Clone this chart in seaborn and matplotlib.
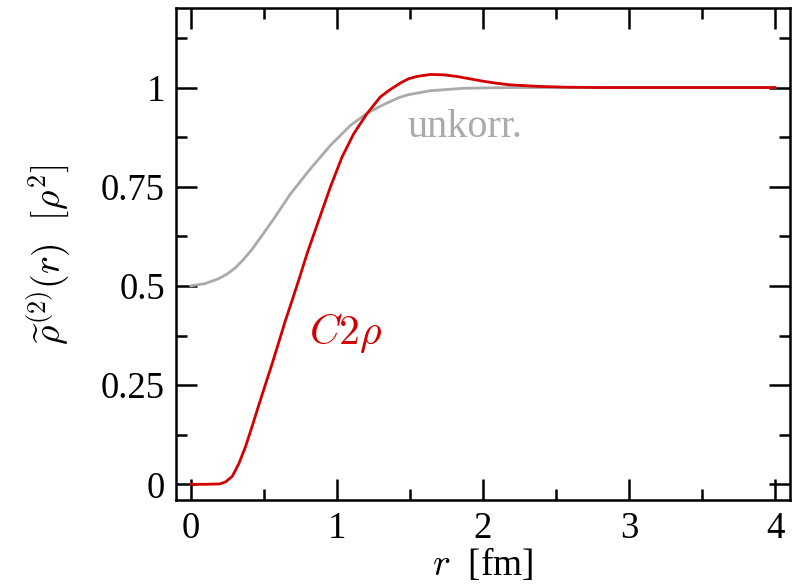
import numpy as np
import pandas as pd
import matplotlib
matplotlib.use("Agg")
import matplotlib.pyplot as plt
from matplotlib.ticker import MultipleLocator
import seaborn as sns

# values
r_unkorr = [0.0, 0.1, 0.19, 0.25, 0.307, 0.36, 0.42, 0.49, 0.569, 0.683, 0.819, 0.956,
            1.092, 1.206, 1.32, 1.42, 1.49, 1.64, 1.86, 2.0, 2.2, 2.5, 3.0, 3.5, 4.0]
rho_unkorr = [0.500, 0.506, 0.518, 0.530, 0.546, 0.566, 0.592, 0.628, 0.669, 0.732,
              0.795, 0.854, 0.904, 0.935, 0.957, 0.974, 0.982, 0.992, 0.998, 0.999,
              1.0, 1.0, 1.0, 1.0, 1.0]

r_c2rho = [0.0, 0.1, 0.2, 0.239, 0.285, 0.33, 0.375, 0.42, 0.466, 0.512, 0.558,
           0.603, 0.648, 0.694, 0.739, 0.80, 0.876, 0.956, 1.035, 1.115, 1.206,
           1.297, 1.354, 1.433, 1.49, 1.55, 1.64, 1.73, 1.82, 1.91, 2.0,
           2.09, 2.18, 2.37, 2.56, 2.8, 3.0, 3.5, 4.0]
rho_c2rho = [0.0, 0.0, 0.001, 0.006, 0.020, 0.052, 0.094, 0.145, 0.199, 0.252, 0.304,
             0.358, 0.412, 0.463, 0.514, 0.585, 0.665, 0.749, 0.824, 0.883, 0.934,
             0.976, 0.992, 1.011, 1.022, 1.028, 1.033, 1.032, 1.028, 1.022,
             1.016, 1.011, 1.007, 1.003, 1.001, 1.0, 1.0, 1.0, 1.0]

xticks = [0, 1, 2, 3, 4]
yticks = [0, 0.25, 0.5, 0.75, 1]
yticklabels = ["0", "0.25", "0.5", "0.75", "1"]

df_unkorr = pd.DataFrame({"r": r_unkorr, "rho": rho_unkorr})
df_c2rho = pd.DataFrame({"r": r_c2rho, "rho": rho_c2rho})

sns.set_style("ticks")
plt.rcParams["font.family"] = ["Liberation Serif", "DejaVu Serif"]
plt.rcParams["mathtext.fontset"] = "cm"
for key in ["text.color", "axes.labelcolor", "xtick.color", "ytick.color", "axes.edgecolor"]:
    plt.rcParams[key] = "black"

RED = "#d40000"
GREY = "#aaaaaa"

fig = plt.figure(figsize=(8.01, 5.85), dpi=100)
ax = fig.add_axes([0.2197, 0.145, 0.7665, 0.841])

sns.lineplot(data=df_unkorr, x="r", y="rho", ax=ax, color=GREY, linewidth=2.0,
             estimator=None, sort=False)
sns.lineplot(data=df_c2rho, x="r", y="rho", ax=ax, color=RED, linewidth=2.0,
             estimator=None, sort=False)

ax.set_xlim(-0.1, 4.1)
ax.set_ylim(-0.04, 1.2)
ax.set_xticks(xticks)
ax.set_xticklabels([str(t) for t in xticks])
ax.set_yticks(yticks)
ax.set_yticklabels(yticklabels)
ax.xaxis.set_minor_locator(MultipleLocator(0.5))
ax.yaxis.set_minor_locator(MultipleLocator(0.125))

ax.tick_params(which="both", direction="in", top=True, right=True, width=1.8,
               labelsize=26.5, pad=8)
ax.tick_params(which="major", length=15)
ax.tick_params(which="minor", length=8)
for sp in ax.spines.values():
    sp.set_linewidth(1.8)
    sp.set_visible(True)

ax.set_xlabel(r"$r$  [fm]", fontsize=27, labelpad=0)
ax.set_ylabel(r"$\widetilde{\rho}^{(2)}(r)\ \ [\rho^2]$", fontsize=27, labelpad=20)

ax.text(1.88, 0.9, "unkorr.", color=GREY, fontsize=29, ha="center", va="center")
ax.text(1.06, 0.38, r"$C2\rho$", color=RED, fontsize=30, ha="center", va="center")

fig.savefig("out.png", dpi=100)
